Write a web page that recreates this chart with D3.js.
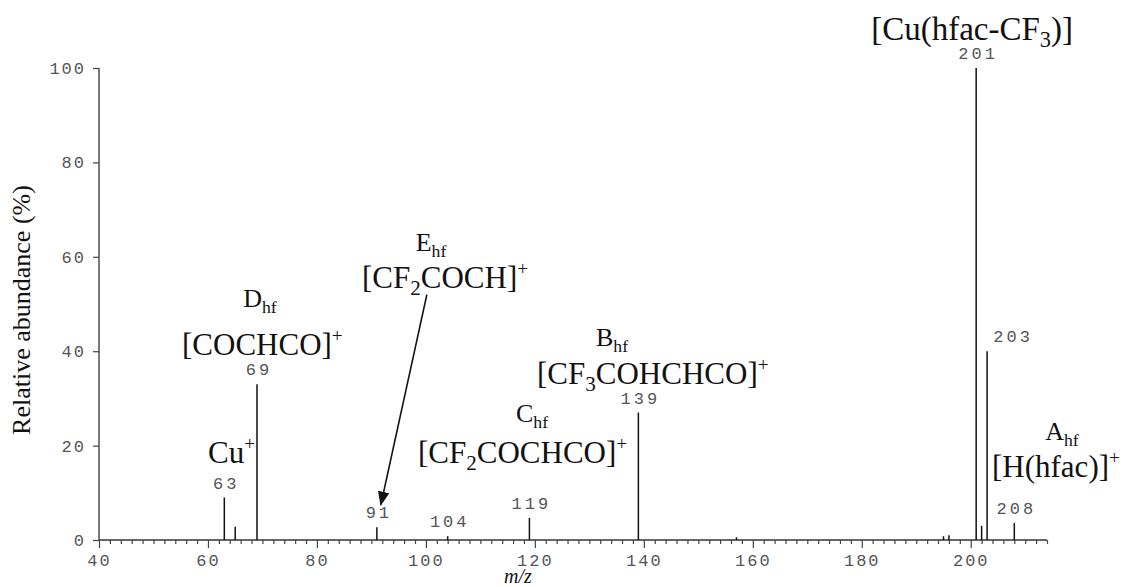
<!DOCTYPE html>
<html>
<head>
<meta charset="utf-8">
<script src="https://cdn.jsdelivr.net/npm/d3@7"></script>
<style>
  html, body { margin: 0; padding: 0; background: #fff; }
  svg { display: block; }
  .mono { font-family: "Liberation Mono", "DejaVu Sans Mono", monospace; fill: #555; }
  .serif { font-family: "Liberation Serif", "Times New Roman", serif; fill: #111; }
</style>
</head>
<body>
<svg id="chart" width="1124" height="587"></svg>
<script>
// Mass spectrum of Cu(hfac) fragments: m/z against relative abundance (%)
const mzValues   = [63, 65, 69, 91, 104, 119, 139, 157, 195, 196, 201, 202, 203, 208];
const abundances = [9, 2.8, 33, 2.7, 0.8, 4.7, 27, 0.6, 0.8, 1, 100, 3, 40, 3.6];
const labelledPeaks = [63, 69, 91, 104, 119, 139, 201, 203, 208];
const xTickValues = [40, 60, 80, 100, 120, 140, 160, 180, 200];
const yTickValues = [0, 20, 40, 60, 80, 100];

const svg = d3.select("#chart");
const x = d3.scaleLinear().domain([40, 214]).range([99, 1047]);
const y = d3.scaleLinear().domain([0, 100]).range([540, 68]);

const peaks = mzValues.map((m, i) => ({ mz: m, ab: abundances[i] }));

// axes
const xMinor = d3.range(40, 215, 2);
const xAxis = d3.axisBottom(x).tickValues(xMinor).tickSize(4)
  .tickFormat(d => xTickValues.includes(d) ? d : "");
const gx = svg.append("g").attr("transform", `translate(0,${y(0)})`).call(xAxis);
gx.select(".domain").attr("stroke", "#333").attr("stroke-width", 1.3).attr("d", `M${x(40)},0H${x(214)}`);
gx.selectAll(".tick line").attr("stroke", "#444").attr("stroke-width", 1.2)
  .attr("y2", d => xTickValues.includes(d) ? 8 : 4);
gx.selectAll(".tick").filter(d => !xTickValues.includes(d)).select("text").remove();
gx.selectAll(".tick text").attr("class", "mono").attr("font-size", 17)
  .attr("letter-spacing", 2).attr("y", 14).attr("dy", "0.71em").attr("fill", "#555");

const yAxis = d3.axisLeft(y).tickValues(yTickValues).tickSize(6).tickPadding(7);
const gy = svg.append("g").attr("transform", `translate(${x(40)},0)`).call(yAxis);
gy.select(".domain").attr("stroke", "#333").attr("stroke-width", 1.3).attr("d", `M0,${y(100)}V${y(0)}`);
gy.selectAll(".tick line").attr("stroke", "#444").attr("stroke-width", 1.2);
gy.selectAll(".tick text").attr("class", "mono").attr("font-size", 17)
  .attr("letter-spacing", 2).attr("fill", "#555");

// peaks
svg.append("g").selectAll("line").data(peaks).join("line")
  .attr("x1", d => x(d.mz)).attr("x2", d => x(d.mz))
  .attr("y1", y(0)).attr("y2", d => y(d.ab))
  .attr("stroke", "#111").attr("stroke-width", 1.5);

// peak m/z labels
const labelShift = { 203: 24 };
svg.append("g").selectAll("text")
  .data(peaks.filter(p => labelledPeaks.includes(p.mz))).join("text")
  .attr("class", "mono").attr("font-size", 17).attr("letter-spacing", 3)
  .attr("text-anchor", "middle")
  .attr("x", d => x(d.mz) + (labelShift[d.mz] || 0) + 2)
  .attr("y", d => y(d.ab) - 9)
  .text(d => d.mz);

// rich text helper: segments [text, "sub"|"sup"|null]
function rich(parent, px, py, size, segs, anchor) {
  const t = parent.append("text").attr("class", "serif")
    .attr("x", px).attr("y", py).attr("font-size", size)
    .attr("text-anchor", anchor || "start");
  let offset = 0;
  segs.forEach(([s, kind]) => {
    const target = kind === "sub" ? size * 0.22 : kind === "sup" ? -size * 0.42 : 0;
    const sp = t.append("tspan").text(s).attr("dy", target - offset);
    offset = target;
    if (kind === "sub") sp.attr("font-size", size * 0.68);
    if (kind === "sup") sp.attr("font-size", size * 0.62);
  });
  return t;
}

const ann = svg.append("g");
const F = 31, L = 26;
rich(ann, 1073, 40, 33, [["[Cu(hfac-CF"], ["3", "sub"], [")]"]], "end");
rich(ann, 431, 251, L, [["E"], ["hf", "sub"]], "middle");
rich(ann, 362, 288, F, [["[CF"], ["2", "sub"], ["COCH]"], ["+", "sup"]]);
rich(ann, 260, 307, L, [["D"], ["hf", "sub"]], "middle");
rich(ann, 182, 355, F, [["[COCHCO]"], ["+", "sup"]]);
rich(ann, 208, 463, F, [["Cu"], ["+", "sup"]]);
rich(ann, 612, 346, L, [["B"], ["hf", "sub"]], "middle");
rich(ann, 537, 384, F, [["[CF"], ["3", "sub"], ["COHCHCO]"], ["+", "sup"]]);
rich(ann, 532, 422, L, [["C"], ["hf", "sub"]], "middle");
rich(ann, 418, 463, F, [["[CF"], ["2", "sub"], ["COCHCO]"], ["+", "sup"]]);
rich(ann, 1062, 440, L, [["A"], ["hf", "sub"]], "middle");
rich(ann, 992, 477, F, [["[H(hfac)]"], ["+", "sup"]]);

// arrow from E_hf to the m/z 91 fragment
svg.append("defs").append("marker").attr("id", "head")
  .attr("viewBox", "0 0 10 10").attr("refX", 9).attr("refY", 5)
  .attr("markerWidth", 9).attr("markerHeight", 9).attr("orient", "auto")
  .append("path").attr("d", "M0,1L10,5L0,9Z").attr("fill", "#111");
svg.append("line")
  .attr("x1", x(91) + 50).attr("y1", y(52))
  .attr("x2", x(91) + 4).attr("y2", y(7.5))
  .attr("stroke", "#111").attr("stroke-width", 1.6).attr("marker-end", "url(#head)");

// axis titles
svg.append("text").attr("class", "serif").attr("font-size", 26)
  .attr("text-anchor", "middle")
  .attr("transform", `translate(30,${(y(0) + y(100)) / 2 + 6}) rotate(-90)`)
  .text("Relative abundance (%)");
svg.append("text").attr("class", "serif").attr("font-size", 20)
  .attr("font-style", "italic").attr("text-anchor", "middle")
  .attr("x", 518).attr("y", 583).text("m/z");
</script>
</body>
</html>
